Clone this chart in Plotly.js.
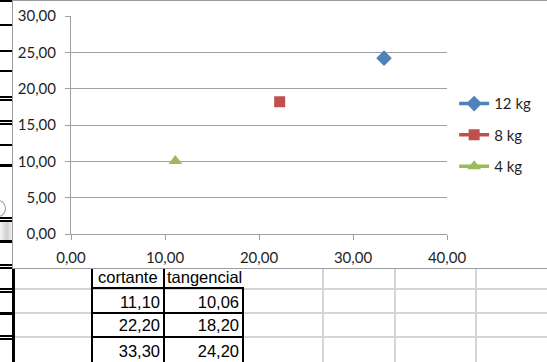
<!DOCTYPE html>
<html>
<head>
<meta charset="utf-8">
<script src="https://cdn.plot.ly/plotly-3.0.1.min.js"></script>
<style>
  html, body { margin: 0; padding: 0; background: #ffffff; }
  #sheet { position: relative; width: 547px; height: 362px; overflow: hidden; background: #ffffff; }
  .abs { position: absolute; }
  .cell { position: absolute; font-family: "Liberation Sans", Arial, sans-serif; font-size: 16.5px; line-height: 19px; color: #000; white-space: nowrap; }
  #chart { position: absolute; left: 13px; top: 1px; width: 545px; height: 267px; }
  #chartborder { position: absolute; left: 12px; top: 0px; width: 545px; height: 269px; box-sizing: border-box; border: 1px solid #9c9c9c; pointer-events: none; }
</style>
</head>
<body>
<div id="sheet"></div>
<script>
// ---- data ----
const loads = ['4 kg', '8 kg', '12 kg'];
const cortante = [11.10, 22.20, 33.30];
const tangencial = [10.06, 18.20, 24.20];
const headers = ['cortante', 'tangencial'];
const xTicks = [0, 10, 20, 30, 40];
const yTicks = [0, 5, 10, 15, 20, 25, 30];

// ---- styles ----
const colors = { '4 kg': '#9BBB59', '8 kg': '#C0504D', '12 kg': '#4F81BD' };
const symbols = { '4 kg': 'triangle-up', '8 kg': 'square', '12 kg': 'diamond' };
const msize = { '4 kg': 12, '8 kg': 11, '12 kg': 12 };
const legendId = { '12 kg': 'legend', '8 kg': 'legend2', '4 kg': 'legend3' };

const sheet = document.getElementById('sheet');
function box(l, t, w, h, bg) {
  const d = document.createElement('div');
  d.className = 'abs';
  d.style.left = l + 'px'; d.style.top = t + 'px';
  d.style.width = w + 'px'; d.style.height = h + 'px';
  d.style.background = bg;
  sheet.appendChild(d);
  return d;
}
function text(str, l, t, w, align) {
  const d = document.createElement('div');
  d.className = 'cell';
  d.style.left = l + 'px'; d.style.top = t + 'px';
  if (w) { d.style.width = w + 'px'; }
  d.style.textAlign = align || 'left';
  d.textContent = str;
  sheet.appendChild(d);
}
const fmt = v => v.toFixed(2).replace('.', ',');

// spreadsheet grid below the chart (light gray)
[288, 312, 336].forEach(y => box(15, y, 532, 2, '#d4d4d4'));
[322, 394, 475].forEach(x => box(x, 268, 2, 94, '#d4d4d4'));

// left strip marks (sheet behind chart)
[[0,2],[24,2],[50,2],[70,2],[96,1.5],[99,1.5],[120,1.5],[123,1.5],[144,2],[164,3],
 [217,1.5],[220,1.5],[240,3],[264,1.5],[267,1.5],[288,1.5],[291,1.5],[312,3],[335,1.5],[338,1.5]]
 .forEach(([y,h]) => box(0, y, 12, h, '#000'));
box(0, 222, 12, 18, 'linear-gradient(90deg,#f4f4f4,#d0d0d0 60%,#f0f0f0)');
const circ = box(-10, 200, 14, 15, 'transparent');
circ.style.border = '1px solid #9a9a9a'; circ.style.borderRadius = '50%';
box(12, 268, 3, 94, '#000');

// table borders
box(91, 268, 2, 94, '#000');
box(163, 268, 2, 94, '#000');
box(242, 287, 2, 75, '#000');
[287, 311.5, 335.5].forEach(y => box(91, y, 153, 2, '#000'));

// table texts
text(headers[0], 98, 267.8);
text(headers[1], 167, 267.8);
const rowTops = [293.1, 315.8, 341.8];
cortante.forEach((v, i) => {
  text(fmt(v), 95, rowTops[i], 65, 'right');
  text(fmt(tangencial[i]), 174, rowTops[i], 65, 'right');
});

// chart
const chart = document.createElement('div'); chart.id = 'chart'; sheet.appendChild(chart);
const border = document.createElement('div'); border.id = 'chartborder'; sheet.appendChild(border);

const order = ['12 kg', '8 kg', '4 kg'];
const traces = order.map(name => {
  const i = loads.indexOf(name);
  return {
    type: 'scatter', mode: 'lines+markers', name: name,
    x: [cortante[i]], y: [tangencial[i]],
    marker: { symbol: symbols[name], size: msize[name], color: colors[name], line: { width: 0 } },
    line: { color: colors[name], width: 3.5 },
    legend: legendId[name], showlegend: true, hoverinfo: 'skip'
  };
});

const font = { family: 'Lato, "Open Sans", sans-serif', size: 15, color: '#1f1f1f' };
const legBase = { x: 1.019, xanchor: 'left', yanchor: 'middle', bgcolor: 'rgba(0,0,0,0)', borderwidth: 0, font: font };
const layout = {
  width: 545, height: 267,
  margin: { l: 58, r: 111, t: 15, b: 34, pad: 0 },
  paper_bgcolor: 'rgba(0,0,0,0)', plot_bgcolor: 'rgba(0,0,0,0)',
  separators: ',.',
  font: font,
  xaxis: {
    range: [xTicks[0], xTicks[xTicks.length - 1]], tickvals: xTicks, tickformat: '.2f',
    showgrid: false, zeroline: false, showline: true, linecolor: '#a0a0a0', linewidth: 1,
    ticks: 'outside', ticklen: 5, tickcolor: '#a0a0a0', ticklabelstandoff: 5, fixedrange: true
  },
  yaxis: {
    range: [yTicks[0], yTicks[yTicks.length - 1]], tickvals: yTicks, tickformat: '.2f',
    showgrid: true, gridcolor: '#a0a0a0', gridwidth: 1, zeroline: false, showline: true,
    linecolor: '#a0a0a0', linewidth: 1, ticks: 'outside', ticklen: 5, tickcolor: '#a0a0a0',
    ticklabelstandoff: 6, fixedrange: true
  },
  legend: Object.assign({}, legBase, { y: 0.597 }),
  legend2: Object.assign({}, legBase, { y: 0.454 }),
  legend3: Object.assign({}, legBase, { y: 0.310 }),
  showlegend: true
};
Plotly.newPlot(chart, traces, layout, { displayModeBar: false, staticPlot: true });
</script>
</body>
</html>
